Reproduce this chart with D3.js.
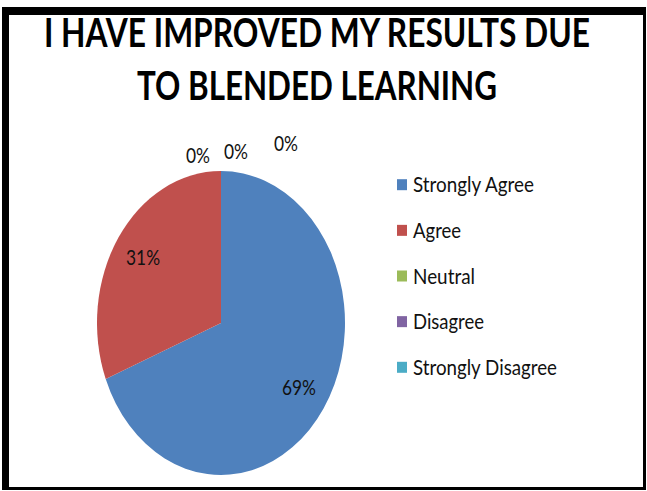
<!DOCTYPE html>
<html>
<head>
<meta charset="utf-8">
<script src="https://cdn.jsdelivr.net/npm/d3@7"></script>
<style>
  html, body { margin: 0; padding: 0; background: #fff; }
  svg { display: block; }
</style>
</head>
<body>
<svg id="chart" width="647" height="491"></svg>
<script>
// ---- data ----
const categories = ["Strongly Agree", "Agree", "Neutral", "Disagree", "Strongly Disagree"];
const values = [69, 31, 0, 0, 0];
const colors = ["#4F81BD", "#C0504D", "#9BBB59", "#8064A2", "#4BACC6"];
const titleLines = ["I HAVE IMPROVED MY RESULTS DUE", "TO BLENDED LEARNING"];

// ---- layout ----
const W = 647, H = 491;
const cx = 221, cy = 323, rx = 124, ry = 152;
const font = "Lato, 'Open Sans', sans-serif";
const svg = d3.select("#chart");

// frame
svg.append("rect").attr("x", 2).attr("y", 7).attr("width", 644).attr("height", 483).attr("fill", "#000");
svg.append("rect").attr("x", 9).attr("y", 15).attr("width", 634).attr("height", 472).attr("fill", "#fff");

// title
const titleWidths = [546, 360];
svg.append("g").selectAll("text").data(titleLines).join("text")
  .attr("x", 317)
  .attr("y", (d, i) => 47 + i * 53)
  .attr("text-anchor", "middle")
  .attr("font-family", font)
  .attr("font-weight", "bold")
  .attr("font-size", 41)
  .attr("textLength", (d, i) => titleWidths[i])
  .attr("lengthAdjust", "spacingAndGlyphs")
  .attr("fill", "#000")
  .text(d => d);

// pie
const pieData = d3.pie().sort(null).value(d => d)(values);
const arc = d3.arc().innerRadius(0).outerRadius(rx);
const ys = ry / rx;
const pieG = svg.append("g").attr("transform", `translate(${cx},${cy}) scale(1,${ys})`);
pieG.selectAll("path").data(pieData).join("path")
  .attr("d", arc)
  .attr("fill", (d, i) => colors[i]);

// labels
const fmt = d3.format(".0%");
const total = d3.sum(values);
const inLabelArc = d3.arc().innerRadius(rx * 0.76).outerRadius(rx * 0.76);
const zeroOffsets = [[-23, -160], [15, -164], [65, -172]];
const labelWidth = s => s.length === 2 ? 24 : 34;
let zi = 0;
const labelPos = pieData.map((d) => {
  if (d.value > 0) {
    const [x, y] = inLabelArc.centroid(d);
    return [cx + x, cy + y * ys + 7];
  } else {
    const o = zeroOffsets[zi++];
    const a = d.startAngle;
    return [cx + Math.sin(a) * rx + o[0], cy + o[1]];
  }
});
svg.append("g").selectAll("text").data(pieData).join("text")
  .attr("x", (d, i) => labelPos[i][0])
  .attr("y", (d, i) => labelPos[i][1])
  .attr("text-anchor", "middle")
  .attr("font-family", font)
  .attr("font-size", 21)
  .attr("fill", "#111")
  .each(function(d) {
    const s = fmt(d.value / total);
    d3.select(this).text(s)
      .attr("textLength", labelWidth(s))
      .attr("lengthAdjust", "spacingAndGlyphs");
  });

// legend
const legendWidths = [121, 48, 62, 71, 144];
const lg = svg.append("g");
const items = lg.selectAll("g").data(categories).join("g")
  .attr("transform", (d, i) => `translate(397,${184.7 + i * 45.65})`);
items.append("rect")
  .attr("x", 0).attr("y", -5.5).attr("width", 10).attr("height", 11)
  .attr("fill", (d, i) => colors[i]);
items.append("text")
  .attr("x", 16).attr("y", 7.5)
  .attr("font-family", font)
  .attr("font-size", 22)
  .attr("fill", "#111")
  .attr("textLength", (d, i) => legendWidths[i])
  .attr("lengthAdjust", "spacingAndGlyphs")
  .text(d => d);
</script>
</body>
</html>
